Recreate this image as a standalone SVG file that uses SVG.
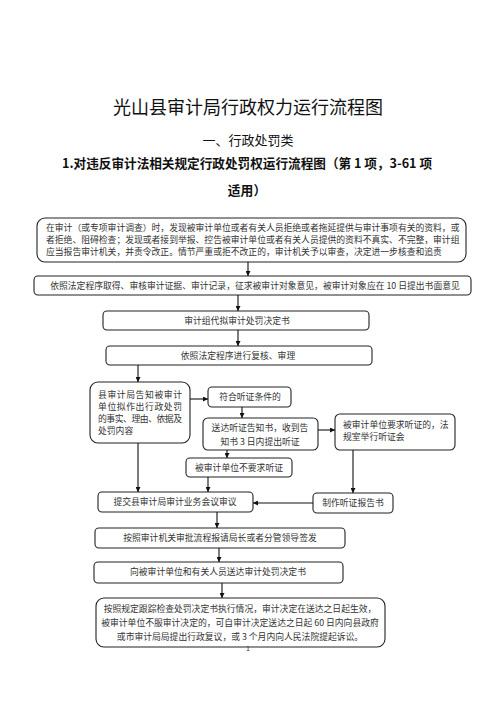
<svg xmlns="http://www.w3.org/2000/svg" width="496" height="702" viewBox="0 0 496 702">
<style>
.bg{fill:#fff}
.box{fill:#fff;stroke:#222;stroke-width:1.1}
.t{font-family:"Noto Sans CJK SC","Liberation Serif",serif;font-size:8.8px;fill:#333}
.c{text-anchor:middle}
.title{font-family:"Noto Sans CJK SC",sans-serif;font-size:18px;fill:#111;text-anchor:middle}
.sub{font-family:"Noto Sans CJK SC",sans-serif;font-size:13px;fill:#111;text-anchor:middle}
.sub2{font-family:"Noto Sans CJK SC","Liberation Serif",serif;font-size:12.8px;font-weight:bold;fill:#111}
.ln{fill:none;stroke:#111;stroke-width:1.1}
</style>
<defs>
<marker id="ah" viewBox="0 0 10 10" refX="10" refY="5" markerWidth="5" markerHeight="5" orient="auto" markerUnits="userSpaceOnUse">
<path d="M0,0 L10,5 L0,10 z" fill="#111"/>
</marker>
</defs>
<rect class="bg" x="0" y="0" width="496" height="702"/>
<g id="header">
<text class="title" x="248" y="114">光山县审计局行政权力运行流程图</text>
<text class="sub" x="248" y="145">一、行政处罚类</text>
<text class="sub2" x="62" y="168" textLength="370" lengthAdjust="spacingAndGlyphs">1.对违反审计法相关规定行政处罚权运行流程图（第 1 项，3-61 项</text>
<text class="sub2" x="247" y="195" text-anchor="middle">适用）</text>
</g>
<g id="n1"><rect class="box" x="37" y="218" width="429" height="44" rx="8"/>
<text class="t" x="46" y="231">在审计（或专项审计调查）时，发现被审计单位或者有关人员拒绝或者拖延提供与审计事项有关的资料，或</text>
<text class="t" x="46" y="243">者拒绝、阻碍检查；发现或者接到举报、控告被审计单位或者有关人员提供的资料不真实、不完整，审计组</text>
<text class="t" x="46" y="255">应当报告审计机关，并责令改正。情节严重或拒不改正的，审计机关予以审查，决定进一步核查和追责</text>
</g>
<g id="n2"><rect class="box" x="34" y="276" width="437" height="19" rx="4"/>
<text class="t c" x="255" y="289">依照法定程序取得、审核审计证据、审计记录，征求被审计对象意见，被审计对象应在 10 日提出书面意见</text>
</g>
<g id="n3"><rect class="box" x="103" y="311" width="266" height="19" rx="4"/>
<text class="t c" x="237" y="324">审计组代拟审计处罚决定书</text>
</g>
<g id="n4"><rect class="box" x="106" y="346" width="266" height="19" rx="4"/>
<text class="t c" x="238" y="359">依照法定程序进行复核、审理</text>
</g>
<g id="n5"><rect class="box" x="90" y="382" width="100" height="61" rx="8"/>
<text class="t" x="98" y="398" textLength="84" lengthAdjust="spacing">县审计局告知被审计</text>
<text class="t" x="98" y="410" textLength="84" lengthAdjust="spacing">单位拟作出行政处罚</text>
<text class="t" x="98" y="422" textLength="84" lengthAdjust="spacing">的事实、理由、依据及</text>
<text class="t" x="98" y="434">处罚内容</text>
</g>
<g id="n6"><rect class="box" x="208" y="387" width="83" height="20" rx="4"/>
<text class="t c" x="250" y="400">符合听证条件的</text>
</g>
<g id="n7"><rect class="box" x="203" y="418" width="115" height="32" rx="5"/>
<text class="t c" x="260" y="431">送达听证告知书，收到告</text>
<text class="t c" x="260" y="445">知书 3 日内提出听证</text>
</g>
<g id="n8"><rect class="box" x="335" y="414" width="120" height="36" rx="5"/>
<text class="t" x="343" y="428">被审计单位要求听证的，法</text>
<text class="t" x="343" y="440">规室举行听证会</text>
</g>
<g id="n9"><rect class="box" x="186" y="458" width="106" height="19" rx="4"/>
<text class="t c" x="239" y="471">被审计单位不要求听证</text>
</g>
<g id="n10"><rect class="box" x="98" y="492" width="155" height="20" rx="4"/>
<text class="t c" x="175" y="505">提交县审计局审计业务会议审议</text>
</g>
<g id="n11"><rect class="box" x="313" y="493" width="80" height="20" rx="4"/>
<text class="t c" x="353" y="506">制作听证报告书</text>
</g>
<g id="n12"><rect class="box" x="95" y="528" width="250" height="20" rx="4"/>
<text class="t c" x="220" y="541">按照审计机关审批流程报请局长或者分管领导签发</text>
</g>
<g id="n13"><rect class="box" x="94" y="562" width="249" height="21" rx="4"/>
<text class="t c" x="218" y="575">向被审计单位和有关人员送达审计处罚决定书</text>
</g>
<g id="n14"><rect class="box" x="96" y="598" width="289" height="49" rx="8"/>
<text class="t c" x="240" y="612">按照规定跟踪检查处罚决定书执行情况，审计决定在送达之日起生效，</text>
<text class="t c" x="240" y="626">被审计单位不服审计决定的，可自审计决定送达之日起 60 日内向县政府</text>
<text class="t c" x="240" y="640">或市审计局局提出行政复议，或 3 个月内向人民法院提起诉讼。</text>
</g>
<g id="page"><text class="t c" x="248" y="651" style="font-size:7px">1</text></g>
<g id="connectors">
<path class="ln" marker-end="url(#ah)" d="M248,262 V276"/>
<path class="ln" marker-end="url(#ah)" d="M238,295 V311"/>
<path class="ln" marker-end="url(#ah)" d="M238,330 V346"/>
<path class="ln" marker-end="url(#ah)" d="M138,365 V382"/>
<path class="ln" marker-end="url(#ah)" d="M190,399 H208"/>
<path class="ln" marker-end="url(#ah)" d="M242,407 V418"/>
<path class="ln" marker-end="url(#ah)" d="M318,430 H335"/>
<path class="ln" marker-end="url(#ah)" d="M227,450 V458"/>
<path class="ln" marker-end="url(#ah)" d="M138,443 V492"/>
<path class="ln" marker-end="url(#ah)" d="M208,477 V492"/>
<path class="ln" marker-end="url(#ah)" d="M353,450 V493"/>
<path class="ln" marker-end="url(#ah)" d="M313,503 H253"/>
<path class="ln" marker-end="url(#ah)" d="M217,512 V528"/>
<path class="ln" marker-end="url(#ah)" d="M219,548 V562"/>
<path class="ln" marker-end="url(#ah)" d="M222,583 V598"/>
</g>
</svg>
